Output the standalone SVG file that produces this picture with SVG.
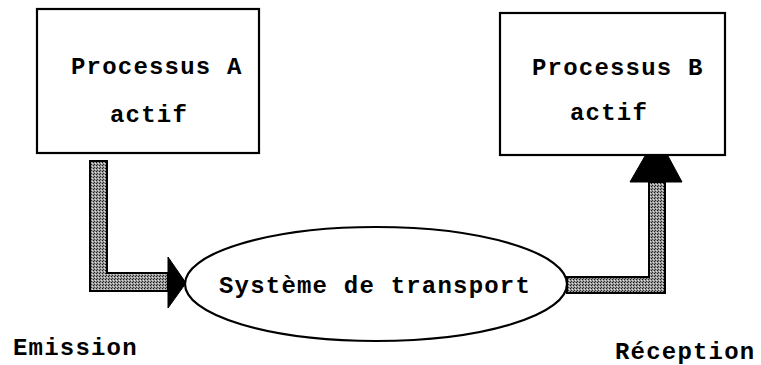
<svg xmlns="http://www.w3.org/2000/svg" width="761" height="365" viewBox="0 0 761 365">
  <defs>
    <!-- halftone fill used by the thick connectors -->
    <pattern id="halftone" width="3" height="3" patternUnits="userSpaceOnUse">
      <rect width="3" height="3" fill="#9a9a9a"/>
      <rect x="0" y="0" width="1" height="1" fill="#1a1a1a"/>
      <rect x="2" y="1" width="1" height="1" fill="#e0e0e0"/>
      <rect x="1" y="2" width="1" height="1" fill="#333"/>
    </pattern>
  </defs>
  <style>
    .box { fill: #fff; stroke: #000; stroke-width: 2.2; }
    .oval { fill: #fff; stroke: #000; stroke-width: 2.2; }
    .bar { fill: url(#halftone); stroke: #000; stroke-width: 2; stroke-linejoin: miter; }
    .head { fill: #000; stroke: #000; stroke-width: 1; }
    .lbl { font-family: "Liberation Mono", "Courier New", monospace; font-weight: bold; font-size: 24px; letter-spacing: 1.2px; fill: #000; }
  </style>

  <rect width="761" height="365" fill="#fff"/>

  <!-- connectors -->
  <g id="connectors">
    <!-- from Processus A down and right into the transport system -->
    <path class="bar" d="M90,161 H107 V273 H168 V291 H90 Z"/>
    <path class="head" d="M168,257 L186,283 L168,308 Z"/>
    <!-- from the transport system right and up into Processus B -->
    <path class="bar" d="M567,277 H649 V182 H665 V293 H567 Z"/>
    <path class="head" d="M630,182 L645,156 L668,156 L682,182 Z"/>
  </g>

  <g id="processus-a">
    <rect class="box" x="37" y="9" width="222" height="144"/>
    <text class="lbl" x="71" y="74">Processus A</text>
    <text class="lbl" x="110" y="122">actif</text>
  </g>

  <g id="processus-b">
    <rect class="box" x="500" y="13" width="225" height="142"/>
    <text class="lbl" x="532" y="75">Processus B</text>
    <text class="lbl" x="570" y="120">actif</text>
  </g>

  <g id="systeme-transport">
    <ellipse class="oval" cx="376" cy="284" rx="191" ry="57"/>
    <text class="lbl" x="219" y="293">Système de transport</text>
  </g>

  <g id="emission">
    <text class="lbl" x="13" y="355">Emission</text>
  </g>

  <g id="reception">
    <text class="lbl" x="615" y="359">Réception</text>
  </g>
</svg>
